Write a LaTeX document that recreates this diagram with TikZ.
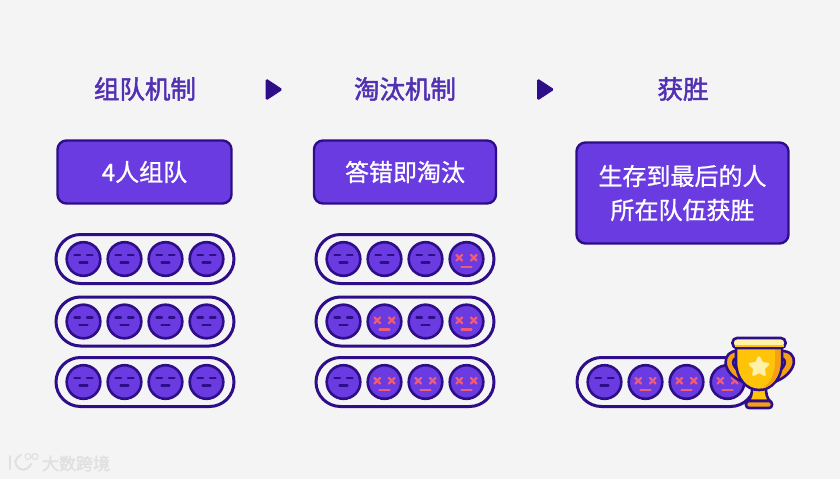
\documentclass[tikz,border=0pt]{standalone}
\usepackage{fontspec}
\setmainfont{Noto Sans CJK SC}
\newfontfamily\headfont[FakeBold=2]{Noto Sans CJK SC}
\newfontfamily\boxfont[FakeBold=1]{Noto Sans CJK SC}
\usepackage{tikz}
\usetikzlibrary{shapes.geometric,shapes.misc,positioning}
\usepackage{xcolor}
\definecolor{bgwhite}{RGB}{244,244,245}
\definecolor{inkblue}{RGB}{46,13,136}
\definecolor{headblue}{RGB}{82,48,178}
\definecolor{facepurple}{RGB}{106,59,224}
\definecolor{deadred}{RGB}{240,92,120}
\definecolor{cupgold}{RGB}{255,196,10}
\definecolor{cupdark}{RGB}{246,160,20}
\definecolor{cuplight}{RGB}{255,240,170}
\definecolor{markgrey}{RGB}{224,224,226}

\begin{document}
\begin{tikzpicture}[
    x=1pt, y=-1pt,
    heading/.style={text=headblue, font=\fontsize{25.5}{30}\headfont, inner sep=0pt},
    rulebox/.style={rectangle, draw=inkblue, fill=facepurple, text=white, rounded corners=9pt, line width=2.4pt, align=center, font=\fontsize{24}{34}\boxfont, inner sep=0pt},
    pill/.style={rounded rectangle, draw=inkblue, line width=3pt, minimum width=178pt, minimum height=49pt, inner sep=0pt},
    go/.style={isosceles triangle, isosceles triangle stretches, fill=inkblue, draw=inkblue, line width=1pt, rounded corners=1.5pt, minimum width=21pt, minimum height=16pt, inner sep=0pt, anchor=lower side},
    line/.style={line width=2.2pt, line cap=round},
    pics/calm/.style={code={
        \draw[draw=inkblue, fill=facepurple, line width=2.6pt] (0,0) circle (16.8pt);
        \draw[line, draw=inkblue] (-9,-4) -- (-3.5,-4);
        \draw[line, draw=inkblue] (3.5,-4) -- (9,-4);
        \draw[line, draw=inkblue] (-4,3.5) -- (4,3.5);
    }},
    pics/dead/.style={code={
        \draw[draw=inkblue, fill=facepurple, line width=2.6pt] (0,0) circle (16.8pt);
        \draw[line, draw=deadred] (-10,-4) -- (-4.5,1.5) (-10,1.5) -- (-4.5,-4);
        \draw[line, draw=deadred] (4.5,-4) -- (10,1.5) (4.5,1.5) -- (10,-4);
        \draw[line, draw=deadred] (-5,8) -- (5,8);
    }}
]
\useasboundingbox[fill=bgwhite] (0,0) rectangle (840,479);

\node[heading] (teamhead) at (145,89) {组队机制};
\node[heading] (outhead) at (405,89) {淘汰机制};
\node[heading] (winhead) at (683,89) {获胜};
\node[go] (goone) at (265.5,89.5) {};
\node[go] (gotwo) at (537,89.5) {};

\node[rulebox, minimum width=174pt, minimum height=63pt] (teambox) at (144.5,172) {4人组队};
\node[rulebox, minimum width=182pt, minimum height=63pt] (outbox) at (405,172) {答错即淘汰};
\node[rulebox, minimum width=212pt, minimum height=101pt] (winbox) at (682.5,193) {生存到最后的人\\所在队伍获胜};

\node[pill] (teamone) at (145,259) {};
\node[pill] (teamtwo) at (145,321.5) {};
\node[pill] (teamthree) at (145,382) {};
\node[pill] (outone) at (405,259) {};
\node[pill] (outtwo) at (405,321.5) {};
\node[pill] (outthree) at (405,382) {};
\node[pill] (winner) at (666,382) {};

% faces, x y kind
\foreach \fx in {83.5,124.5,165.5,206.5}
    \foreach \fy in {259,321.5,382}
        \pic at (\fx,\fy) {calm};
\foreach \fx/\fy/\kind in {
    343.5/259/calm, 384.5/259/calm, 425.5/259/calm, 466.5/259/dead,
    343.5/321.5/calm, 384.5/321.5/dead, 425.5/321.5/calm, 466.5/321.5/dead,
    343.5/382/calm, 384.5/382/dead, 425.5/382/dead, 466.5/382/dead,
    604.5/382/calm, 645.5/382/dead, 686.5/382/dead, 727.5/382/dead}
    \pic at (\fx,\fy) {\kind};

% trophy
\draw[draw=inkblue, fill=cupdark, line width=2.6pt] (738,351) .. controls (722,350) and (720,372) .. (741,381) -- (744,374) .. controls (732,369) and (730,358) .. (738,358) -- cycle;
\draw[draw=inkblue, fill=cupdark, line width=2.6pt] (780,351) .. controls (800,350) and (798,372) .. (777,381) -- (774,374) .. controls (786,369) and (788,358) .. (780,358) -- cycle;
\draw[draw=inkblue, fill=cupgold, line width=2.6pt] (752,388) -- (766,388) .. controls (766,394) and (767,398) .. (770,401) -- (748,401) .. controls (751,398) and (752,394) .. (752,388) -- cycle;
\draw[draw=inkblue, fill=cupgold, line width=2.6pt] (736,346) -- (782,346) -- (782,362) .. controls (782,378) and (772,390) .. (759,390) .. controls (746,390) and (736,378) .. (736,362) -- cycle;
\fill[cupdark] (775,348) -- (780.6,348) -- (780.6,362) .. controls (780.6,376) and (772,387) .. (762,388.6) .. controls (770,384) and (775,374) .. (775,362) -- cycle;
\draw[draw=inkblue, fill=cuplight, line width=2.6pt, rounded corners=4.5pt] (732.5,338) rectangle (785.5,348);
\fill[cupgold] (735,344.5) -- (783.5,344.5) -- (783.5,346.6) -- (735,346.6) -- cycle;
\draw[draw=inkblue, fill=cupdark, line width=2.6pt, rounded corners=3pt] (746,401) rectangle (772,408);
\node[star, star points=5, star point ratio=2, fill=cuplight, draw=cuplight, line width=2.5pt, line join=round, minimum size=19pt, inner sep=0pt] (prize) at (759,367) {};

% watermark
\node[text=markgrey, font=\fontsize{17}{20}\headfont, inner sep=0pt] (mark) at (76,463.5) {大数跨境};
\draw[draw=markgrey, line width=2pt, line cap=round] (10,456) -- (10,469);
\draw[draw=markgrey, line width=2pt, line cap=round] (21,455) .. controls (14,459) and (13,464) .. (20,469) .. controls (25,471) and (29,468) .. (31,464);
\draw[draw=markgrey, line width=1.1pt] (28,456.5) circle (3pt) (35,456.5) circle (3pt);
\end{tikzpicture}
\end{document}
